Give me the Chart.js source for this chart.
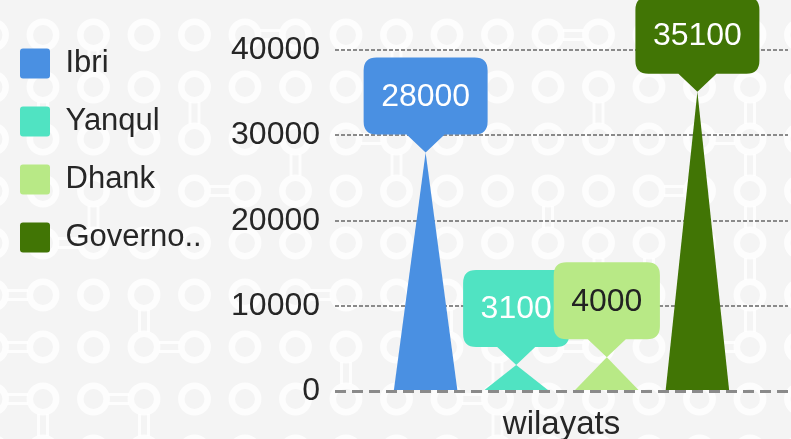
<!DOCTYPE html>
<html>
<head>
<meta charset="utf-8">
<title>wilayats</title>
<script src="https://cdn.jsdelivr.net/npm/chart.js@4.4.1/dist/chart.umd.min.js"></script>
<style>
  html, body { margin: 0; padding: 0; width: 791px; height: 439px; overflow: hidden; background: #f4f4f4; }
  #wrap { position: absolute; left: -7px; top: 0; width: 798px; height: 470px; }
</style>
</head>
<body>
<div id="wrap"><canvas id="chart"></canvas></div>
<script>
// datos del grafico
const categories = ['wilayats'];
const seriesNames = ['Ibri', 'Yanqul', 'Dhank', 'Governorate'];
const seriesValues = [[28000], [3100], [4000], [35100]];
const seriesColors = ['#4a90e2', '#50e3c2', '#b8e986', '#417505'];
const labelColors = ['#ffffff', '#ffffff', '#222222', '#ffffff'];
const yTicks = [0, 10000, 20000, 30000, 40000];

const FONT = "'Liberation Sans', Arial, sans-serif";
const TEXT = '#262626';
Chart.defaults.font.family = FONT;
Chart.defaults.color = TEXT;

// fondo con circulitos (solo decoracion)
const bgPattern = {
  id: 'bgPattern',
  beforeDraw(chart) {
    const ctx = chart.ctx;
    const W = chart.width, H = chart.height;
    ctx.save();
    ctx.fillStyle = '#f4f4f4';
    ctx.fillRect(0, 0, W, H);
    const sx = 50.5, sy = 52, ox = 50, oy = 35;
    const pts = [], links = [];
    for (let j = -1; j < 11; j++) {
      for (let i = -1; i < 18; i++) {
        const x = ox + i * sx, y = oy + j * sy;
        pts.push([x, y]);
        const h = (((i + 3) * 7 + (j + 5) * 13 + (i * j) % 5) % 6 + 6) % 6;
        if (h === 0) links.push([x, y, x + sx, y]);
        if (h === 3) links.push([x, y, x, y + sy]);
      }
    }
    ctx.strokeStyle = 'rgba(255,255,255,0.8)';
    ctx.lineWidth = 6.5;
    pts.forEach(p => { ctx.beginPath(); ctx.arc(p[0], p[1], 13.2, 0, Math.PI * 2); ctx.stroke(); });
    ctx.lineWidth = 3;
    links.forEach(l => {
      const dx = Math.sign(l[2] - l[0]), dy = Math.sign(l[3] - l[1]);
      [-4.5, 4.5].forEach(o => {
        ctx.beginPath();
        ctx.moveTo(l[0] + dx * 15 + dy * o, l[1] + dy * 15 + dx * o);
        ctx.lineTo(l[2] - dx * 15 + dy * o, l[3] - dy * 15 + dx * o);
        ctx.stroke();
      });
    });
    ctx.restore();
  }
};

// barras en forma de triangulo
const triangleBars = {
  id: 'triangleBars',
  beforeDatasetDraw(chart, args) {
    const ctx = chart.ctx;
    args.meta.data.forEach(bar => {
      const p = bar.getProps(['x', 'y', 'base', 'width'], true);
      ctx.save();
      ctx.beginPath();
      ctx.moveTo(p.x - p.width / 2, p.base);
      ctx.lineTo(p.x, p.y);
      ctx.lineTo(p.x + p.width / 2, p.base);
      ctx.closePath();
      ctx.fillStyle = bar.options.backgroundColor;
      ctx.fill();
      ctx.restore();
    });
    return false;
  }
};

// globitos con el valor encima de cada barra
const callouts = {
  id: 'callouts',
  afterDatasetsDraw(chart) {
    const ctx = chart.ctx;
    chart.data.datasets.forEach((ds, i) => {
      const meta = chart.getDatasetMeta(i);
      meta.data.forEach((bar, j) => {
        const text = String(ds.data[j]);
        ctx.save();
        ctx.font = '32px ' + FONT;
        const tw = ctx.measureText(text).width;
        const w = tw + 35, h = 77, ptr = 18, r = 13, pw = 19;
        const tipX = bar.x, tipY = bar.y;
        const bottom = tipY - ptr, top = bottom - h;
        const left = tipX - w / 2, right = tipX + w / 2;
        ctx.beginPath();
        ctx.moveTo(left + r, top);
        ctx.lineTo(right - r, top);
        ctx.quadraticCurveTo(right, top, right, top + r);
        ctx.lineTo(right, bottom - r);
        ctx.quadraticCurveTo(right, bottom, right - r, bottom);
        ctx.lineTo(tipX + pw, bottom);
        ctx.lineTo(tipX, tipY);
        ctx.lineTo(tipX - pw, bottom);
        ctx.lineTo(left + r, bottom);
        ctx.quadraticCurveTo(left, bottom, left, bottom - r);
        ctx.lineTo(left, top + r);
        ctx.quadraticCurveTo(left, top, left + r, top);
        ctx.closePath();
        ctx.fillStyle = seriesColors[i];
        ctx.fill();
        ctx.fillStyle = labelColors[i];
        ctx.textAlign = 'center';
        ctx.textBaseline = 'middle';
        ctx.fillText(text, tipX, top + h / 2 + 1);
        ctx.restore();
      });
    });
  }
};

const shorten = t => t.length > 8 ? t.slice(0, 7) + '..' : t;

const chart = new Chart(document.getElementById('chart'), {
  type: 'bar',
  data: {
    labels: categories,
    datasets: seriesNames.map((name, i) => ({
      label: name,
      data: seriesValues[i],
      backgroundColor: seriesColors[i],
      borderWidth: 0,
      categoryPercentage: 0.8,
      barPercentage: 0.7
    }))
  },
  options: {
    responsive: true,
    maintainAspectRatio: false,
    animation: false,
    layout: { padding: { top: 21, left: 0, right: 3, bottom: 11 } },
    plugins: {
      tooltip: { enabled: false },
      legend: {
        position: 'left',
        align: 'start',
        maxWidth: 260,
        labels: {
          boxWidth: 30,
          boxHeight: 30,
          padding: 27,
          useBorderRadius: true,
          borderRadius: 3,
          color: TEXT,
          font: { size: 31 },
          generateLabels(c) {
            return Chart.defaults.plugins.legend.labels.generateLabels(c)
              .map(l => Object.assign(l, { text: shorten(l.text) }));
          }
        }
      }
    },
    scales: {
      x: {
        grid: { display: false, drawTicks: false },
        border: { display: false },
        ticks: { font: { size: 33 }, color: TEXT, padding: 14 }
      },
      y: {
        min: yTicks[0],
        max: yTicks[yTicks.length - 1],
        afterBuildTicks: s => { s.ticks = yTicks.map(v => ({ value: v })); },
        afterFit: s => { s.width = 123.4; },
        ticks: {
          autoSkip: false,
          font: { size: 32, lineHeight: '70px' },
          color: TEXT,
          padding: 15,
          callback: v => String(v)
        },
        grid: {
          drawTicks: false,
          color: '#8a8a8a',
          lineWidth: c => c.tick && c.tick.value === 0 ? 3 : 2
        },
        border: {
          display: false,
          dash: c => c.tick && c.tick.value === 0 ? [11, 6] : [4, 2]
        }
      }
    }
  },
  plugins: [bgPattern, triangleBars, callouts]
});
</script>
</body>
</html>
